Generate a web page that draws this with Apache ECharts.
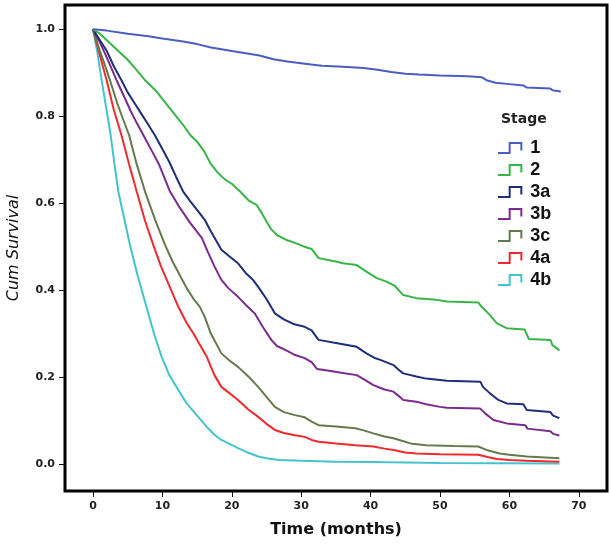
<!DOCTYPE html>
<html><head><meta charset="utf-8">
<script src="https://cdn.jsdelivr.net/npm/echarts@6/dist/echarts.min.js"></script>
<style>html,body{margin:0;padding:0;background:#fff}#c{width:611px;height:549px}</style>
</head><body><div id="c"></div>
<script>
const stages = ['1','2','3a','3b','3c','4a','4b'];
const colors = ['#4b5ec0','#38b548','#1f2e78','#7b2a8d','#647a4c','#ef2a2f','#43c4cc'];
const xTicks = [0,10,20,30,40,50,60,70];
const yTicks = [0,0.2,0.4,0.6,0.8,1.0];

const s1 = [[0,1],[2,0.997],[5,0.99],[8,0.984],[10,0.979],[13,0.972],[15,0.966],[17,0.958],[20,0.95],[22,0.945],[24,0.94],[26,0.931],[28,0.926],[30,0.922],[32,0.918],[33,0.916],[36,0.914],[39,0.911],[41,0.907],[43,0.902],[45,0.898],[47,0.896],[50,0.894],[54,0.892],[56,0.89],[56.7,0.883],[58,0.877],[60,0.874],[62,0.871],[62.5,0.866],[65.9,0.864],[66.2,0.86],[67.4,0.857]];
const s2 = [[0,1],[1,0.99],[2,0.975],[3,0.96],[4,0.945],[5,0.93],[6,0.912],[7.5,0.883],[9,0.86],[10,0.84],[11,0.82],[12,0.8],[13,0.78],[14,0.757],[15,0.742],[16,0.72],[17,0.69],[18,0.67],[19,0.655],[20,0.645],[21.2,0.627],[22.4,0.607],[23.6,0.596],[24.3,0.578],[25,0.558],[25.7,0.54],[26.5,0.527],[28,0.515],[29.3,0.508],[30.5,0.5],[31.5,0.495],[32.5,0.474],[35,0.466],[36,0.462],[38,0.458],[39.4,0.443],[40.9,0.428],[42.3,0.42],[43.5,0.41],[44.7,0.389],[46.6,0.382],[49.5,0.378],[51,0.374],[55.5,0.372],[56,0.362],[57.2,0.343],[58.2,0.324],[59.6,0.313],[62.2,0.31],[62.8,0.288],[65.9,0.286],[66.2,0.274],[67.2,0.262]];
const s3a = [[0,1],[1,0.975],[2,0.95],[3,0.915],[4.1,0.883],[5,0.855],[6,0.83],[7,0.805],[8,0.78],[8.9,0.757],[10,0.725],[11,0.695],[12,0.66],[13,0.627],[14,0.605],[15,0.585],[16.1,0.562],[17,0.535],[18.5,0.493],[19.5,0.48],[20.9,0.462],[22,0.44],[23,0.425],[23.8,0.408],[25,0.38],[26.2,0.347],[27.5,0.333],[29,0.322],[30.5,0.316],[31.5,0.308],[32.5,0.286],[35,0.279],[37,0.273],[38,0.27],[39.4,0.255],[40.5,0.245],[41.4,0.24],[43.3,0.228],[44,0.218],[44.7,0.209],[46.6,0.202],[48,0.197],[50,0.194],[51,0.192],[55.8,0.19],[56.2,0.178],[57.2,0.163],[58.4,0.148],[59.6,0.14],[62,0.138],[62.5,0.125],[65.9,0.12],[66.3,0.112],[67.2,0.106]];
const s3b = [[0,1],[1,0.97],[2,0.935],[3.4,0.883],[4.5,0.845],[5.5,0.81],[6.3,0.785],[7.25,0.757],[8.5,0.72],[9.5,0.69],[11.1,0.627],[12.5,0.59],[14,0.555],[15.7,0.52],[16.5,0.49],[17.5,0.455],[18.5,0.424],[19.5,0.405],[20.9,0.385],[22,0.367],[23.3,0.347],[24.5,0.315],[25.7,0.286],[26.5,0.272],[27.7,0.263],[29,0.252],[30.5,0.244],[31.5,0.235],[32.3,0.219],[34,0.215],[36,0.21],[38,0.205],[39,0.196],[40.4,0.182],[42,0.172],[43.3,0.167],[44.2,0.155],[44.7,0.148],[46.6,0.144],[48,0.138],[50,0.132],[51,0.13],[55.8,0.128],[56.5,0.117],[57.7,0.102],[59.6,0.094],[62.3,0.09],[62.6,0.082],[65.9,0.076],[66.3,0.07],[67.2,0.066]];
const s3c = [[0,1],[1,0.95],[2,0.905],[2.45,0.883],[3.5,0.83],[4.3,0.795],[5.2,0.757],[6.3,0.69],[7.5,0.627],[9,0.56],[10.4,0.504],[11.5,0.465],[12.5,0.435],[13.5,0.405],[14.5,0.38],[15.4,0.362],[16.1,0.339],[17,0.3],[18.5,0.255],[19.7,0.238],[20.9,0.224],[22.5,0.2],[23.8,0.178],[25,0.155],[26.2,0.132],[27.5,0.12],[29.1,0.113],[30.5,0.108],[31.5,0.098],[32.5,0.09],[35,0.087],[37.8,0.083],[39,0.078],[40.4,0.071],[42,0.064],[43.3,0.06],[44.5,0.054],[46,0.047],[48,0.044],[52,0.042],[55.5,0.041],[56.7,0.033],[58.6,0.025],[60,0.022],[62.5,0.018],[67.2,0.014]];
const s4a = [[0,1],[1,0.94],[1.97,0.883],[3,0.815],[4.1,0.757],[5.2,0.69],[6.3,0.627],[7.5,0.56],[8.7,0.504],[9.8,0.455],[11,0.41],[12.3,0.362],[13.5,0.325],[14.5,0.3],[15.5,0.272],[16.4,0.247],[17.5,0.205],[18.5,0.178],[19.7,0.163],[20.9,0.148],[22.3,0.127],[23.8,0.109],[25,0.093],[26.2,0.079],[27.5,0.072],[29.1,0.067],[30.5,0.063],[31.5,0.056],[32.5,0.052],[35,0.048],[37.8,0.044],[40.4,0.041],[42,0.036],[43.3,0.033],[45,0.027],[46.6,0.025],[50,0.023],[55.5,0.022],[57,0.016],[58.2,0.012],[60,0.01],[62.5,0.008],[67.2,0.006]];
const s4b = [[0,1],[0.6,0.95],[1.25,0.883],[1.9,0.82],[2.55,0.757],[3.1,0.69],[3.65,0.627],[4.5,0.565],[5.33,0.504],[6.5,0.43],[7.7,0.362],[8.8,0.3],[9.9,0.247],[11,0.205],[12.3,0.171],[13.5,0.14],[15,0.112],[16.4,0.086],[17.5,0.068],[18.5,0.056],[19.7,0.047],[20.9,0.037],[22.3,0.027],[23.8,0.018],[25,0.014],[26.7,0.01],[30,0.008],[35,0.006],[40,0.005],[50,0.003],[67.2,0.002]];
const seriesData = [s1,s2,s3a,s3b,s3c,s4a,s4b];

const iconPath = 'path://M0,14 L14,14 L14,2 L28,2 L28,11';
const chart = echarts.init(document.getElementById('c'), null, {renderer:'canvas'});
chart.setOption({
  animation:false,
  backgroundColor:'#fff',
  grid:{left:65, top:5, right:4, bottom:58, outerBoundsMode:'none', containLabel:false, show:true, borderColor:'#000', borderWidth:3, backgroundColor:'transparent'},
  title:{text:'Stage', left:501, top:112, padding:0, textStyle:{fontFamily:'DejaVu Sans', fontWeight:'bold', fontSize:14, color:'#222'}},
  legend:{
    orient:'vertical', left:492, top:134, itemWidth:31, itemHeight:10, itemGap:4,
    textStyle:{fontFamily:'Liberation Sans, Arial', fontWeight:'bold', fontSize:18, color:'#111'},
    data: stages.map((s,i)=>({name:s, icon:iconPath, itemStyle:{color:'rgba(0,0,0,0)', borderColor:colors[i], borderWidth:2}}))
  },
  xAxis:{type:'value', min:-4.03, max:74.06,
    name:'Time (months)', nameLocation:'middle', nameGap:31,
    nameTextStyle:{fontFamily:'DejaVu Sans', fontWeight:'bold', fontSize:16, color:'#111'},
    axisLine:{show:false, onZero:false}, splitLine:{show:false},
    axisTick:{show:true, length:6, customValues:xTicks, lineStyle:{color:'#111', width:1}},
    axisLabel:{customValues:xTicks, margin:10, fontFamily:'DejaVu Sans', fontWeight:'bold', fontSize:11, color:'#222'}
  },
  yAxis:{type:'value', min:-0.0614, max:1.0559,
    name:'Cum Survival', nameLocation:'middle', nameGap:43,
    nameTextStyle:{fontFamily:'DejaVu Sans', fontStyle:'italic', fontSize:16, color:'#111'},
    axisLine:{show:false, onZero:false}, splitLine:{show:false},
    axisTick:{show:true, length:6, customValues:yTicks, lineStyle:{color:'#111', width:1}},
    axisLabel:{customValues:yTicks, margin:10, fontFamily:'DejaVu Sans', fontWeight:'bold', fontSize:11, color:'#222', formatter:v=>v.toFixed(1)}
  },
  series: stages.map((s,i)=>({
    name:s, type:'line', data:seriesData[i], showSymbol:false, symbol:'none',
    lineStyle:{color:colors[i], width:2}, itemStyle:{color:colors[i]}, z:10-i
  }))
});
</script></body></html>
